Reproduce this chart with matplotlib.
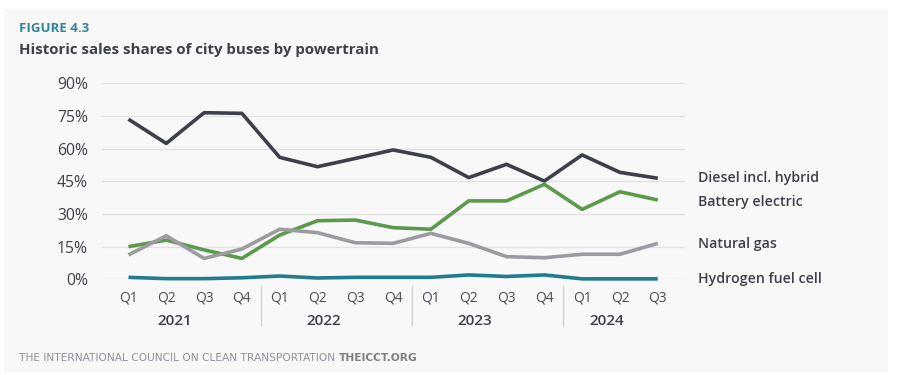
import matplotlib.pyplot as plt
from matplotlib.patches import Rectangle
from matplotlib.transforms import blended_transform_factory

plt.rcParams['font.family'] = ['Open Sans', 'DejaVu Sans']

# quarters Q1 2021 .. Q3 2024
quarters = ['Q1', 'Q2', 'Q3', 'Q4'] * 3 + ['Q1', 'Q2', 'Q3']
years = ['2021', '2022', '2023', '2024']

diesel = [73.5, 62.4, 76.5, 76.2, 56.0, 51.7, 55.5, 59.4, 56.0, 46.7, 52.8, 45.1, 57.1, 49.1, 46.4]
battery = [15.0, 18.0, 13.5, 9.6, 20.3, 26.9, 27.2, 23.7, 23.0, 36.0, 36.0, 43.6, 32.1, 40.2, 36.4]
natgas = [11.2, 20.0, 9.6, 13.9, 23.0, 21.4, 16.8, 16.5, 21.1, 16.5, 10.4, 9.9, 11.5, 11.5, 16.5]
hydrogen = [0.9, 0.3, 0.3, 0.7, 1.5, 0.6, 0.9, 0.9, 0.9, 2.0, 1.3, 2.0, 0.2, 0.2, 0.2]

series = [
    ('Diesel incl. hybrid', diesel, '#3d4049', 178),
    ('Battery electric', battery, '#5b9a4b', 202),
    ('Natural gas', natgas, '#9b9ba1', 244),
    ('Hydrogen fuel cell', hydrogen, '#237b8e', 279),
]

W, H = 917, 375
fig = plt.figure(figsize=(W / 100, H / 100), dpi=100)
fig.patches.append(Rectangle((4 / W, 1 - 372 / H), 884 / W, 363 / H,
                             transform=fig.transFigure, facecolor='#f8f8f8',
                             edgecolor='none', zorder=-10))

ax = fig.add_axes([102 / W, 1 - 279.3 / H, 583 / W, 196 / H])
ax.set_facecolor('none')
x = list(range(len(quarters)))

for name, vals, col, ty in series:
    ax.plot(x, vals, color=col, lw=2.6, solid_capstyle='butt', clip_on=False, zorder=3)
    fig.text(698 / W, 1 - ty / H, name, fontsize=10.2, color='#3d4049',
             va='center', ha='left', fontweight='semibold')

ax.set_xlim(-0.70, 14.72)
ax.set_ylim(0, 90)
yt = [0, 15, 30, 45, 60, 75, 90]
ax.set_yticks(yt)
ax.set_yticklabels([f'{v}%' for v in yt], fontsize=11.3, color='#3d4049')
ax.set_xticks(x)
ax.set_xticklabels(quarters, fontsize=10, color='#4a4d55')
ax.tick_params(length=0, pad=8)
ax.tick_params(axis='y', pad=10)
ax.grid(axis='y', color='#e2e2e2', lw=1)
ax.set_axisbelow(True)
for s in ax.spines.values():
    s.set_visible(False)

trans = blended_transform_factory(ax.transData, fig.transFigure)
for sep in [3.5, 7.5, 11.5]:
    ax.plot([sep, sep], [1 - 286 / H, 1 - 325 / H], transform=trans,
            color='#cfcfcf', lw=1, clip_on=False)
for yx, yr in zip([1.23, 5.17, 9.17, 12.66], years):
    ax.text(yx, 1 - 321 / H, yr, transform=trans, ha='center', va='center',
            fontsize=11, fontweight='semibold', color='#3d4049')

fig.text(19 / W, 1 - 28 / H, 'FIGURE 4.3', fontsize=9.5, fontweight='bold',
         color='#2f8597', va='center')
fig.text(19 / W, 1 - 50 / H, 'Historic sales shares of city buses by powertrain',
         fontsize=10.8, fontweight='bold', color='#3d4049', va='center')
t = fig.text(19 / W, 1 - 358 / H, 'THE INTERNATIONAL COUNCIL ON CLEAN TRANSPORTATION ',
             fontsize=7.7, color='#8c929b', va='center', family='DejaVu Sans')
fig.canvas.draw()
bb = t.get_window_extent()
fig.text(bb.x1 / W, 1 - 358 / H, 'THEICCT.ORG', fontsize=7.7, fontweight='bold',
         color='#7d7f85', va='center', family='DejaVu Sans')

fig.savefig('out.png', dpi=100)
